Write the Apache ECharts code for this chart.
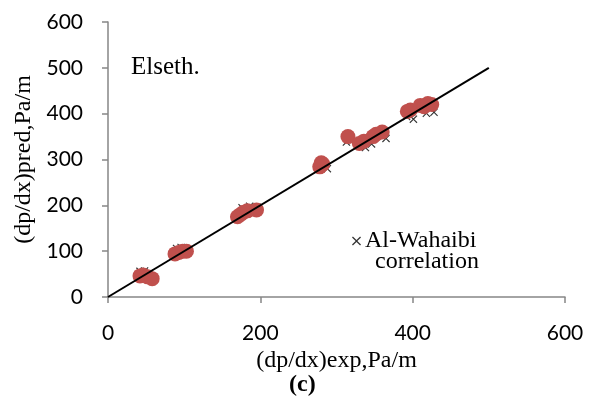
<!DOCTYPE html>
<html>
<head>
<meta charset="utf-8">
<script src="https://cdn.jsdelivr.net/npm/echarts@6/dist/echarts.min.js"></script>
<style>
  html, body { margin: 0; padding: 0; background: #fff; }
  #chart { width: 593px; height: 406px; }
</style>
</head>
<body>
<div id="chart"></div>
<script>
// Elseth. predictions (red circles)
var elsethX = [42, 46, 52, 58, 88, 93, 98, 103, 170, 174, 178, 183, 195, 278, 282, 280, 315, 330, 336, 348, 352, 360, 393, 397, 410, 415, 425, 420];
var elsethY = [46, 48, 44, 40, 94, 97, 100, 100, 175, 180, 185, 188, 190, 284, 290, 293, 350, 335, 340, 350, 355, 360, 405, 408, 418, 415, 420, 422];
// Al-Wahaibi correlation (x markers, mostly hidden behind the circles)
var wahaibiX = [42, 48, 54, 90, 96, 102, 176, 186, 196, 288, 313, 338, 346, 365, 392, 401, 418, 428];
var wahaibiY = [56, 57, 52, 106, 108, 106, 195, 198, 196, 280, 338, 326, 334, 346, 394, 388, 401, 403];
// 1:1 reference line
var lineX = [0, 500];
var lineY = [0, 500];
var xTicks = [0, 200, 400, 600];
var yTicks = [0, 100, 200, 300, 400, 500, 600];

function pairs(xs, ys) {
    return xs.map(function (x, i) { return [x, ys[i]]; });
}

var crossPath = 'path://M0,1L1,0L5,4L9,0L10,1L6,5L10,9L9,10L5,6L1,10L0,9L4,5Z';
var serif = '"Liberation Serif", "Times New Roman", serif';
var sans = 'Lato, "Open Sans", sans-serif';

var myChart = echarts.init(document.getElementById('chart'));
myChart.setOption({
    animation: false,
    grid: { left: 108, right: 28, top: 22, bottom: 109 },
    legend: {
        data: ['Al-Wahaibi'],
        left: 347,
        top: 224,
        icon: crossPath,
        itemWidth: 9,
        itemHeight: 9,
        itemGap: 0,
        textStyle: { fontFamily: serif, fontSize: 24, color: '#000', padding: [0, 0, 0, -1] }
    },
    xAxis: {
        type: 'value',
        min: xTicks[0],
        max: xTicks[xTicks.length - 1],
        interval: 200,
        name: '(dp/dx)exp,Pa/m',
        nameLocation: 'middle',
        nameGap: 44,
        nameTextStyle: { fontFamily: serif, fontSize: 24, color: '#000' },
        axisLine: { lineStyle: { color: '#868686', width: 1.5 } },
        axisTick: { show: true, length: 6, lineStyle: { color: '#868686', width: 1.5 } },
        axisLabel: { fontFamily: sans, fontSize: 21, color: '#000', margin: 26 },
        splitLine: { show: false }
    },
    yAxis: {
        type: 'value',
        min: yTicks[0],
        max: yTicks[yTicks.length - 1],
        interval: 100,
        name: '(dp/dx)pred,Pa/m',
        nameLocation: 'middle',
        nameGap: 70,
        nameTextStyle: { fontFamily: serif, fontSize: 24, color: '#000' },
        axisLine: { show: true, lineStyle: { color: '#868686', width: 1.5 } },
        axisTick: { show: true, length: 6, lineStyle: { color: '#868686', width: 1.5 } },
        axisLabel: { fontFamily: sans, fontSize: 21, color: '#000', margin: 25 },
        splitLine: { show: false }
    },
    graphic: [
        { type: 'text', left: 131, top: 55, style: { text: 'Elseth.', font: '25px ' + serif, fill: '#000' } },
        { type: 'text', left: 375, top: 250, style: { text: 'correlation', font: '24px ' + serif, fill: '#000' } },
        { type: 'text', left: 289, top: 373, style: { text: '(c)', font: 'bold 24px ' + serif, fill: '#000' } }
    ],
    series: [
        {
            name: 'Al-Wahaibi',
            type: 'scatter',
            symbol: crossPath,
            symbolSize: 8,
            itemStyle: { color: '#000' },
            data: pairs(wahaibiX, wahaibiY),
            z: 2
        },
        {
            name: 'Elseth.',
            type: 'scatter',
            symbol: 'circle',
            symbolSize: 15,
            itemStyle: { color: '#C0504D', opacity: 1 },
            data: pairs(elsethX, elsethY),
            z: 3
        },
        {
            name: 'line',
            type: 'line',
            showSymbol: false,
            symbol: 'none',
            lineStyle: { color: '#000', width: 2 },
            data: pairs(lineX, lineY),
            z: 4
        }
    ]
});
</script>
</body>
</html>
